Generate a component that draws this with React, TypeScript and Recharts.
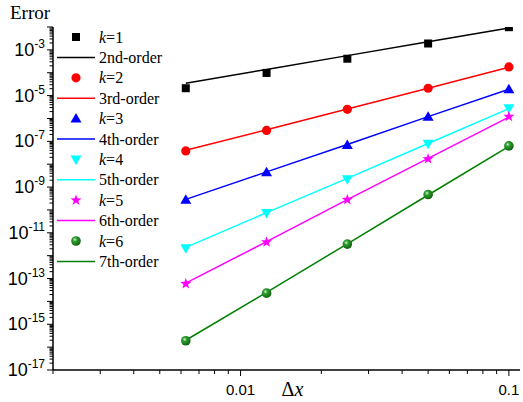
import React from "react";
import { ComposedChart, Line, Scatter, XAxis, YAxis, Legend } from "recharts";

// grid spacings
const dx = [0.00625, 0.0125, 0.025, 0.05, 0.1];

// measured errors for each k
const k1 = [2.1e-5, 9.8e-5, 4.1e-4, 1.9e-3, 9.8e-3];
const k2 = [3.8e-8, 3.0e-7, 2.5e-6, 2.1e-5, 1.8e-4];
const k3 = [2.8e-10, 4.5e-9, 6.9e-8, 1.2e-6, 1.9e-5];
const k4 = [2.1e-12, 7.4e-11, 2.2e-9, 7.8e-8, 2.8e-6];
const k5 = [5.9e-14, 3.9e-12, 2.8e-10, 1.7e-8, 1.2e-6];
const k6 = [1.9e-16, 2.3e-14, 3.2e-12, 4.7e-10, 6.3e-8];

// reference slope lines
const order2 = [3.5e-5, 1.4e-4, 5.6e-4, 2.25e-3, 9.0e-3];
const order3 = [4.1e-8, 3.2e-7, 2.6e-6, 2.1e-5, 1.75e-4];
const order4 = [2.9e-10, 4.6e-9, 7.3e-8, 1.2e-6, 1.9e-5];
const order5 = [2.3e-12, 7.6e-11, 2.4e-9, 8.0e-8, 2.7e-6];
const order6 = [6.3e-14, 4.1e-12, 2.8e-10, 1.8e-8, 1.15e-6];
const order7 = [2.0e-16, 2.5e-14, 3.3e-12, 4.5e-10, 6.0e-8];

// axis ticks
const xMajorTicks = [0.01, 0.1];
const xMinorTicks = [0.002, 0.003, 0.004, 0.005, 0.006, 0.007, 0.008, 0.009,
  0.02, 0.03, 0.04, 0.05, 0.06, 0.07, 0.08, 0.09];
const xTickLabels = ["0.01", "0.1"];
const yDecades = [-17, -16, -15, -14, -13, -12, -11, -10, -9, -8, -7, -6, -5, -4, -3, -2];
const yLabelExponents = [-17, -15, -13, -11, -9, -7, -5, -3];
const minorSteps = [2, 3, 4, 5, 6, 7, 8, 9];

const xTicks = [...xMinorTicks, ...xMajorTicks].sort((a, b) => a - b);
const yTicks: number[] = [];
yDecades.forEach((e) => {
  yTicks.push(Math.pow(10, e));
  if (e < -2) minorSteps.forEach((m) => yTicks.push(m * Math.pow(10, e)));
});

const data = dx.map((v, i) => ({
  dx: v,
  k1: k1[i], k2: k2[i], k3: k3[i], k4: k4[i], k5: k5[i], k6: k6[i],
  o2: order2[i], o3: order3[i], o4: order4[i], o5: order5[i], o6: order6[i], o7: order7[i],
}));

const series = [
  { k: "1", key: "k1", line: "o2", order: "2nd-order", color: "#000000", shape: "square" },
  { k: "2", key: "k2", line: "o3", order: "3rd-order", color: "#ff0000", shape: "circle" },
  { k: "3", key: "k3", line: "o4", order: "4th-order", color: "#0000ff", shape: "up" },
  { k: "4", key: "k4", line: "o5", order: "5th-order", color: "#00ffff", shape: "down" },
  { k: "5", key: "k5", line: "o6", order: "6th-order", color: "#ff00ff", shape: "star" },
  { k: "6", key: "k6", line: "o7", order: "7th-order", color: "#008000", shape: "sphere" },
];

const serif = "'Liberation Serif', 'Times New Roman', serif";
const sans = "'Liberation Sans', Arial, sans-serif";

const Marker = ({ cx, cy, shape, color }: any) => {
  if (cx == null || cy == null) return null;
  switch (shape) {
    case "square":
      return <rect x={cx - 4} y={cy - 4} width={8} height={8} fill={color} />;
    case "circle":
      return <circle cx={cx} cy={cy} r={4.6} fill={color} />;
    case "up":
      return <polygon points={`${cx},${cy - 5.5} ${cx - 5.5},${cy + 4} ${cx + 5.5},${cy + 4}`} fill={color} />;
    case "down":
      return <polygon points={`${cx},${cy + 5.5} ${cx - 5.5},${cy - 4} ${cx + 5.5},${cy - 4}`} fill={color} />;
    case "star": {
      const pts: string[] = [];
      for (let i = 0; i < 10; i++) {
        const r = i % 2 === 0 ? 5.8 : 2.4;
        const a = -Math.PI / 2 + (i * Math.PI) / 5;
        pts.push(`${cx + r * Math.cos(a)},${cy + r * Math.sin(a)}`);
      }
      return <polygon points={pts.join(" ")} fill={color} />;
    }
    case "sphere":
      return (
        <g>
          <defs>
            <radialGradient id="sphereGrad" cx="0.38" cy="0.35" r="0.7">
              <stop offset="0%" stopColor="#d8f5d8" />
              <stop offset="30%" stopColor="#2f9f2f" />
              <stop offset="100%" stopColor="#0a5a0a" />
            </radialGradient>
          </defs>
          <circle cx={cx} cy={cy} r={4.8} fill="url(#sphereGrad)" />
        </g>
      );
    default:
      return null;
  }
};

const YTick = (props: any) => {
  const { x, y, payload } = props;
  const lg = Math.log10(payload.value);
  const exp = Math.round(lg);
  const major = Math.abs(lg - exp) < 1e-6;
  return (
    <g>
      <line x1={x} x2={x - (major ? 6 : 3.5)} y1={y} y2={y} stroke="#000" strokeWidth={1} />
      {major && yLabelExponents.includes(exp) && (
        <text x={x - 8} y={y + 6} textAnchor="end" fontFamily={sans} fontSize={18} fill="#000">
          10<tspan dy={-8} fontSize={12}>{`${exp}`}</tspan>
        </text>
      )}
    </g>
  );
};

const XTick = (props: any) => {
  const { x, y, payload } = props;
  const idx = xMajorTicks.indexOf(payload.value);
  return (
    <g>
      <line x1={x} x2={x} y1={y} y2={y + (idx >= 0 ? 6 : 4)} stroke="#000" strokeWidth={1} />
      {idx >= 0 && (
        <text x={x} y={y + 25} textAnchor="middle" fontFamily={sans} fontSize={15} fill="#000">
          {xTickLabels[idx]}
        </text>
      )}
    </g>
  );
};

const ErrorLabel = () => (
  <text x={10} y={19} fontFamily={serif} fontSize={19} fill="#000">Error</text>
);

const DxLabel = (props: any) => {
  const vb = props.viewBox || { x: 53, width: 467, y: 370 };
  return (
    <text x={vb.x + vb.width / 2 + 6} y={396} textAnchor="middle" fontFamily={serif} fontSize={20} fill="#000">
      Δ<tspan fontStyle="italic">x</tspan>
    </text>
  );
};

const LegendBox = () => {
  const rowH = 20.4;
  return (
    <svg width={125} height={250}>
      {series.map((s, i) => {
        const y1 = 11 + 2 * i * rowH;
        const y2 = y1 + rowH;
        return (
          <g key={s.key}>
            <Marker cx={21} cy={y1} shape={s.shape} color={s.color} />
            <text x={44} y={y1 + 5.5} fontFamily={serif} fontSize={16} fill="#000">
              <tspan fontStyle="italic">k</tspan>={s.k}
            </text>
            <line x1={2} x2={40} y1={y2} y2={y2} stroke={s.color} strokeWidth={1.5} />
            <text x={44} y={y2 + 5.5} fontFamily={serif} fontSize={16} fill="#000">{s.order}</text>
          </g>
        );
      })}
    </svg>
  );
};

export default function App() {
  return (
    <div style={{ position: "absolute", left: 0, top: 0, background: "#fff" }}>
      <ComposedChart width={523} height={402} data={data} margin={{ top: 27, right: 3, bottom: 0, left: 0 }}>
        <XAxis
          dataKey="dx"
          type="number"
          scale="log"
          domain={[0.002, 0.11]}
          allowDataOverflow
          ticks={xTicks}
          interval={0}
          tick={<XTick />}
          tickLine={false}
          tickSize={0}
          tickMargin={0}
          height={32}
          axisLine={{ stroke: "#000", strokeWidth: 1.5 }}
          label={<DxLabel />}
        />
        <YAxis
          type="number"
          scale="log"
          domain={[1e-17, 1e-2]}
          allowDataOverflow
          ticks={yTicks}
          interval={0}
          tick={<YTick />}
          tickLine={false}
          tickSize={0}
          tickMargin={0}
          width={53}
          axisLine={{ stroke: "#000", strokeWidth: 1.5 }}
          label={<ErrorLabel />}
        />
        <Legend
          layout="vertical"
          align="center"
          verticalAlign="middle"
          content={<LegendBox />}
          wrapperStyle={{ left: 55, top: 26, width: 125, height: 250 }}
        />
        {series.map((s) => (
          <Line
            key={s.line}
            dataKey={s.line}
            stroke={s.color}
            strokeWidth={1.5}
            dot={false}
            activeDot={false}
            legendType="none"
            isAnimationActive={false}
          />
        ))}
        {series.map((s) => (
          <Scatter
            key={s.key}
            dataKey={s.key}
            fill={s.color}
            legendType="none"
            isAnimationActive={false}
            shape={(p: any) => <Marker cx={p.cx} cy={p.cy} shape={s.shape} color={s.color} />}
          />
        ))}
      </ComposedChart>
    </div>
  );
}
